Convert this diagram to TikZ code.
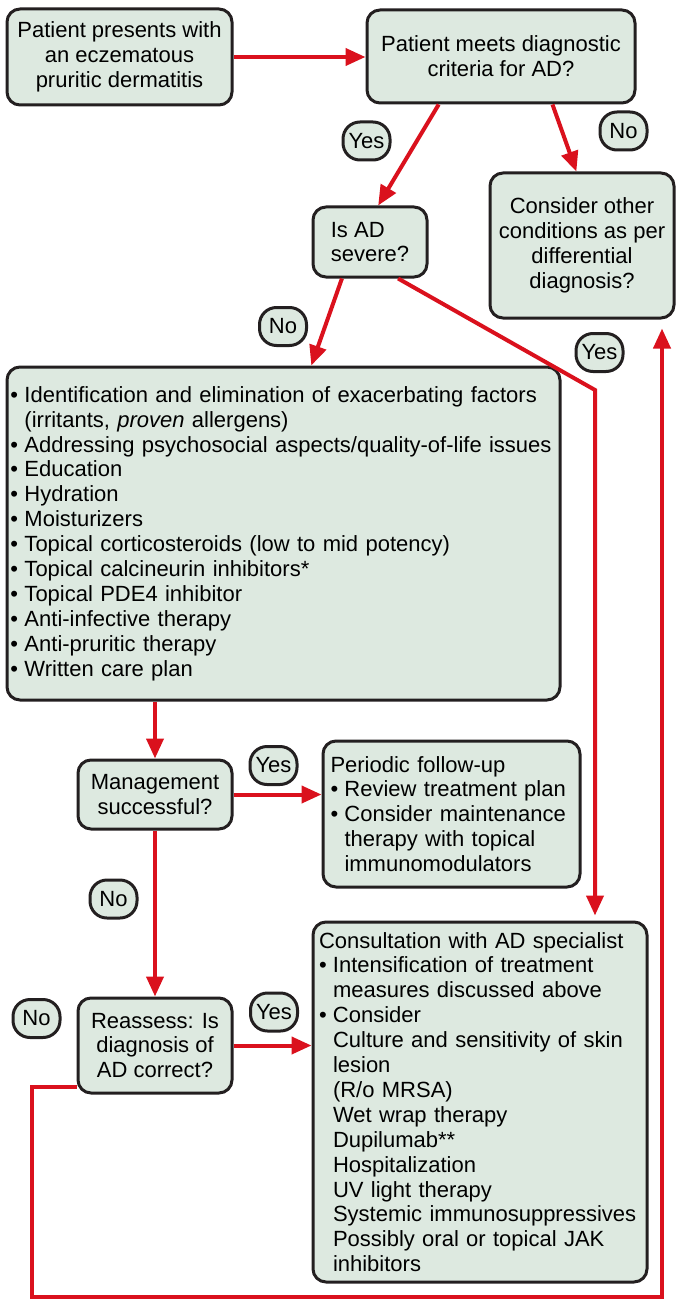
\documentclass[tikz,border=0pt]{standalone}
\usepackage{fontspec}
\setmainfont{Liberation Sans}
\usepackage{tikz}
\usetikzlibrary{positioning,calc,arrows.meta}
\definecolor{boxfill}{RGB}{221,233,224}
\definecolor{boxline}{RGB}{35,31,32}
\definecolor{flowred}{RGB}{218,17,29}
\newcommand{\flowfont}{\fontsize{11pt}{12.45pt}\selectfont}
\newcommand{\itemdot}{\makebox[7pt][l]{\textbullet}}
\newcommand{\itemgap}{\hspace*{7pt}}

\begin{document}
\begin{tikzpicture}[
	x=0.5pt, y=-0.5pt,
	box/.style={rectangle, rounded corners=6.5pt, draw=boxline, line width=1.5pt, fill=boxfill, font=\flowfont, inner sep=2pt},
	tag/.style={rectangle, rounded corners=8.5pt, draw=boxline, line width=1.5pt, fill=boxfill, font=\flowfont, minimum width=23.5pt, minimum height=19pt, inner sep=1pt},
	flow/.style={draw=flowred, line width=2pt, -{Triangle[length=10pt,width=8.5pt]}}
	]
	\useasboundingbox (0,0) rectangle (680,1300);
	
	\node[box, minimum width=112.5pt, minimum height=48pt, align=center] (present) at (119.5,57) {Patient presents with\\an eczematous\\pruritic dermatitis};
	\node[box, minimum width=134pt, minimum height=46.5pt, align=center] (criteria) at (501,56.5) {Patient meets diagnostic\\criteria for AD?};
	\node[box, minimum width=57pt, minimum height=35pt, align=left] (severe) at (370,242) {Is AD\\severe?};
	\node[box, minimum width=92pt, minimum height=72.5pt, align=center] (other) at (582,245.5) {Consider other\\conditions as per\\differential\\diagnosis?};
	\node[box, text width=273pt, inner xsep=1.75pt, minimum height=166.5pt, align=left] (basic) at (283.5,533.5) {\itemdot Identification and elimination of exacerbating factors\\
		\itemgap (irritants, \textit{proven} allergens)\\
		\itemdot Addressing psychosocial aspects/quality-of-life issues\\
		\itemdot Education\\
		\itemdot Hydration\\
		\itemdot Moisturizers\\
		\itemdot Topical corticosteroids (low to mid potency)\\
		\itemdot Topical calcineurin inhibitors*\\
		\itemdot Topical PDE4 inhibitor\\
		\itemdot Anti-infective therapy\\
		\itemdot Anti-pruritic therapy\\
		\itemdot Written care plan};
	\node[box, minimum width=77pt, minimum height=34.5pt, align=center] (success) at (155,794.5) {Management\\successful?};
	\node[box, text width=121pt, inner xsep=3.75pt, minimum height=73pt, align=left] (followup) at (451.5,814) {Periodic follow-up\\
		\itemdot Review treatment plan\\
		\itemdot Consider maintenance\\
		\itemgap therapy with topical\\
		\itemgap immunomodulators};
	\node[box, minimum width=77pt, minimum height=47.5pt, align=center] (reassess) at (155,1045.5) {Reassess: Is\\diagnosis of\\AD correct?};
	\node[box, text width=161pt, inner xsep=3pt, minimum height=180pt, align=left] (consult) at (480,1102) {Consultation with AD specialist\\
		\itemdot Intensification of treatment\\
		\itemgap measures discussed above\\
		\itemdot Consider\\
		\itemgap Culture and sensitivity of skin\\
		\itemgap lesion\\
		\itemgap (R/o MRSA)\\
		\itemgap Wet wrap therapy\\
		\itemgap Dupilumab**\\
		\itemgap Hospitalization\\
		\itemgap UV light therapy\\
		\itemgap Systemic immunosuppressives\\
		\itemgap Possibly oral or topical JAK\\
		\itemgap inhibitors};
	
	\node[tag] (yesA) at (366.5,141) {Yes};
	\node[tag] (noA) at (623.5,131) {No};
	\node[tag] (noB) at (283,326.5) {No};
	\node[tag] (yesB) at (599.5,352.5) {Yes};
	\node[tag] (yesC) at (273.5,765.5) {Yes};
	\node[tag] (noC) at (113.5,899) {No};
	\node[tag] (noD) at (36.5,1018.5) {No};
	\node[tag] (yesD) at (274,1012) {Yes};
	
	\coordinate (bend) at (595,390);
	\coordinate (loopL) at (32,1297);
	\coordinate (loopR) at (662,1297);
	
	\draw[flow] (present.east) -- (present.east -| criteria.west);
	\draw[flow] ($(criteria.south west)!0.27!(criteria.south east)$) -- ($(severe.north west)!0.57!(severe.north east)$);
	\draw[flow] ($(criteria.south west)!0.69!(criteria.south east)$) -- ($(other.north west)!0.47!(other.north east)$);
	\draw[flow] ($(severe.south west)!0.26!(severe.south east)$) -- ($(basic.north west)!0.55!(basic.north east)$);
	\draw[flow, shorten >=2.5pt] ($(severe.south west)!0.74!(severe.south east)$) -- (bend) -- (bend |- consult.north);
	\draw[flow] (success.north |- basic.south) -- (success.north);
	\draw[flow] (success.east) -- (success.east -| followup.west);
	\draw[flow] (success.south) -- (reassess.north);
	\draw[flow] (reassess.east) -- (reassess.east -| consult.west);
	\draw[flow, shorten >=4.5pt] ($(reassess.south west)!0.074!(reassess.north west)$) -| (loopL) -- (loopR) -- (loopR |- other.south);
	
\end{tikzpicture}
\end{document}
